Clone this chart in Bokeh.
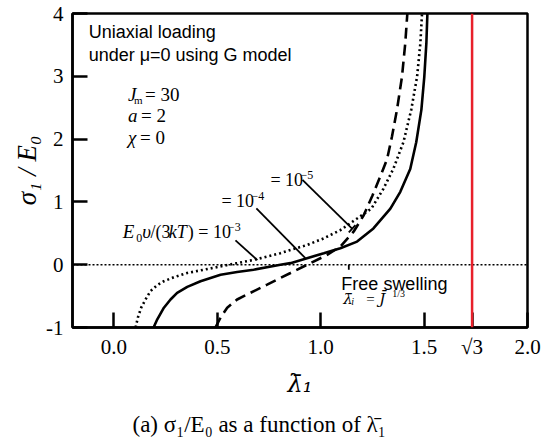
from bokeh.plotting import figure
from bokeh.models import Range1d, FixedTicker, CustomJSTickFormatter, Span, Label, Title
from bokeh.embed import file_html
from bokeh.resources import INLINE

# --- data ---
# E0 v/(3kT) = 1e-3 (dotted)
lam_d3 = [0.105, 0.116, 0.132, 0.153, 0.177, 0.210, 0.242, 0.290, 0.355, 0.435, 0.516, 0.596, 0.676,
          0.805, 0.854, 0.934, 1.015, 1.095, 1.176, 1.245, 1.303, 1.351, 1.400, 1.438, 1.466, 1.482, 1.490]
sig_d3 = [-1.0, -0.842, -0.685, -0.554, -0.421, -0.326, -0.263, -0.200, -0.132, -0.080, -0.027, 0.025, 0.077,
          0.183, 0.235, 0.314, 0.420, 0.550, 0.735, 0.893, 1.208, 1.524, 1.950, 2.470, 2.991, 3.527, 4.0]
# E0 v/(3kT) = 1e-4 (solid)
lam_d4 = [0.192, 0.210, 0.242, 0.274, 0.306, 0.355, 0.419, 0.516, 0.596, 0.676, 0.805, 0.854, 0.934,
          1.015, 1.095, 1.176, 1.255, 1.337, 1.385, 1.433, 1.462, 1.487, 1.501, 1.511, 1.516]
sig_d4 = [-1.0, -0.869, -0.685, -0.554, -0.448, -0.353, -0.263, -0.159, -0.117, -0.080, -0.002, 0.025, 0.104,
          0.183, 0.262, 0.368, 0.577, 0.893, 1.161, 1.524, 1.950, 2.470, 2.991, 3.527, 4.0]
# E0 v/(3kT) = 1e-5 (dashed)
lam_d5 = [0.491, 0.516, 0.548, 0.596, 0.644, 0.741, 0.805, 0.854, 0.950, 1.031, 1.095, 1.159, 1.208,
          1.250, 1.293, 1.321, 1.345, 1.369, 1.393, 1.409, 1.419]
sig_d5 = [-1.0, -0.842, -0.685, -0.554, -0.475, -0.317, -0.211, -0.132, 0.025, 0.156, 0.289, 0.525, 0.787,
          1.098, 1.445, 1.681, 2.044, 2.470, 2.991, 3.527, 4.0]

sqrt3 = 3 ** 0.5
x_ticks = [0.0, 0.5, 1.0, 1.5, sqrt3, 2.0]
y_ticks = [-1, 0, 1, 2, 3, 4]

SERIF = "Liberation Serif"
SANS = "Liberation Sans"

p = figure(width=541, height=445, output_backend="svg", toolbar_location=None,
           x_range=Range1d(-0.2, 2.0), y_range=Range1d(-1, 4),
           min_border_left=72, min_border_right=14, min_border_top=13, min_border_bottom=114)
p.grid.visible = False
p.background_fill_color = "white"
p.border_fill_color = "white"
p.outline_line_color = "black"
p.outline_line_width = 2.5

for ax in (p.xaxis[0], p.yaxis[0]):
    ax.axis_line_width = 2.5
    ax.major_tick_in = 15
    ax.major_tick_out = 0
    ax.major_tick_line_width = 2.5
    ax.minor_tick_in = 0
    ax.minor_tick_out = 0
    ax.major_label_text_font = SERIF
    ax.major_label_text_font_size = "21px"
    ax.major_label_text_color = "black"
    ax.axis_label_text_color = "black"
    ax.axis_label_text_font_style = "italic"

p.xaxis.ticker = FixedTicker(ticks=x_ticks)
p.xaxis.formatter = CustomJSTickFormatter(code="""
    if (Math.abs(tick - 1.7320508) < 1e-4) { return "\u221a3"; }
    return tick.toFixed(1);
""")
p.xaxis.major_label_standoff = 7
p.xaxis.axis_label = "\u03bb\u0304\u2081"
p.xaxis.axis_label_text_font = "DejaVu Serif"
p.xaxis.axis_label_text_font_size = "24px"
p.xaxis.axis_label_standoff = 8

p.yaxis.ticker = FixedTicker(ticks=y_ticks)
p.yaxis.formatter = CustomJSTickFormatter(code="return tick.toFixed(0);")
p.yaxis.major_label_standoff = 9
p.yaxis.axis_label = "\u03c3\u2081 / E\u2080"
p.yaxis.axis_label_text_font = SERIF
p.yaxis.axis_label_text_font_size = "27px"
p.yaxis.axis_label_standoff = 1

# zero reference line and sqrt(3) line
p.add_layout(Span(location=0, dimension="width", line_color="black", line_width=1.4, line_dash="2 2"))
p.add_layout(Span(location=sqrt3, dimension="height", line_color="#e8202a", line_width=2.5))

# curves
p.line(lam_d3, sig_d3, line_color="black", line_width=2.6, line_dash="2 3")
p.line(lam_d4, sig_d4, line_color="black", line_width=2.6)
p.line(lam_d5, sig_d5, line_color="black", line_width=2.6, line_dash="11 6")

# leader lines (and the small end bar / free-swelling mark)
p.segment(x0=[0.588, 0.689, 0.912, 1.136, 1.136], y0=[0.388, 0.896, 1.350, 0.514, 0.0],
          x1=[0.694, 0.926, 1.152, 1.168, 1.136], y1=[0.073, 0.104, 0.573, 0.631, -0.08],
          line_color="black", line_width=1.8)

def lab(x, y, text, font=SERIF, size="18px", style="normal", align="left", dx=0, dy=0):
    p.add_layout(Label(x=x, y=y, x_offset=dx, y_offset=dy, text=text, text_font=font,
                       text_font_size=size, text_font_style=style, text_align=align,
                       text_baseline="middle", text_color="black"))

lab(-0.122, 3.70, "Uniaxial loading", font=SANS, size="18px")
lab(-0.122, 3.34, "under \u03bc=0 using G model", font=SANS, size="18px")

lab(0.0686, 2.71, "J", size="19px", style="italic")
lab(0.0686, 2.71, "m", size="11px", dx=6, dy=-5)
lab(0.0686, 2.71, "= 30", size="19px", dx=17)
lab(0.0686, 2.37, "a", size="19px", style="italic")
lab(0.0686, 2.37, "= 2", size="19px", dx=13)
lab(0.0686, 2.03, "\u03c7", size="19px", style="italic")
lab(0.0686, 2.03, "= 0", size="19px", dx=12)

# E0 v/(3kT) = 10^-3
x3, y3 = 0.0435, 0.522
lab(x3, y3, "E", size="19px", style="italic")
lab(x3, y3, "0", size="12px", dx=13.5, dy=-6)
lab(x3, y3, "\u03c5", size="19px", style="italic", dx=19.5)
lab(x3, y3, "/(3", size="18px", dx=27.7)
lab(x3, y3, "kT", size="18px", style="italic", dx=46)
lab(x3, y3, ")", size="18px", dx=65)
lab(x3, y3, "= 10", size="18px", dx=75.4)
lab(x3, y3, "\u22123", size="12px", dx=105, dy=5)
# = 10^-4
lab(0.5203, 1.011, "= 10", size="18px")
lab(0.5203, 1.011, "\u22124", size="12px", dx=30, dy=5)
# = 10^-5
lab(0.7570, 1.353, "= 10", size="18px")
lab(0.7570, 1.353, "\u22125", size="12px", dx=30, dy=5)

lab(1.100, -0.306, "Free swelling", font=SANS, size="18px")
lab(1.1097, -0.543, "\u03bb\u0304", font="DejaVu Serif", size="15px", style="italic")
lab(1.148, -0.59, "i", size="10px", style="italic")
lab(1.2208, -0.543, "=", size="15px")
lab(1.2836, -0.543, "J\u0304", font="DejaVu Serif", size="15px", style="italic")
lab(1.3464, -0.464, "1/3", size="10px")

p.add_layout(Title(text="(a) \u03c3\u2081/E\u2080 as a function of  \u03bb\u0304\u2081", align="left", offset=60,
                   standoff=18, text_font=SERIF, text_font_size="23px", text_font_style="normal",
                   text_color="black"), "below")

open("out.html", "w").write(file_html(p, INLINE))
